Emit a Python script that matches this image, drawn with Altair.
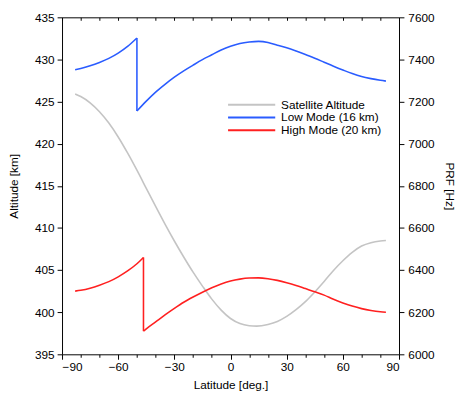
import altair as alt
import pandas as pd

# ---- data ----
alt_lat = [-83, -80, -75, -70, -65, -60, -55, -50, -45, -40, -35, -30, -25, -20, -15, -10, -5,
           0, 5, 10, 14, 20, 25, 30, 35, 40, 45, 50, 55, 60, 65, 70, 75, 80, 83]
alt_km = [425.9, 425.6, 424.85, 423.8, 422.45, 420.8, 418.9, 416.85, 414.7, 412.55, 410.45,
          408.45, 406.55, 404.75, 403.1, 401.55, 400.25, 399.25, 398.65, 398.4, 398.35,
          398.55, 398.9, 399.5, 400.3, 401.25, 402.4, 403.65, 404.95, 406.1, 407.1, 407.85,
          408.25, 408.45, 408.5]

# Low mode: before the jump / after the jump
low_lat_a = [-83, -80, -75, -70, -65, -60, -55, -50]
low_prf_a = [7351, 7357, 7370, 7386, 7405, 7430, 7462, 7502]
low_lat_b = [-50, -45, -40, -35, -30, -25, -20, -15, -10, -5, 0, 5, 10, 15, 20, 25, 30, 35, 40,
             45, 50, 55, 60, 65, 70, 75, 80, 83]
low_prf_b = [7155, 7202, 7245, 7282, 7316, 7346, 7373, 7399, 7422, 7445, 7463, 7476, 7483, 7486,
             7481, 7468, 7455, 7440, 7424, 7406, 7387, 7368, 7350, 7333, 7319, 7309, 7301, 7297]

# High mode: before the jump / after the jump
high_lat_a = [-83, -80, -75, -70, -65, -60, -55, -50, -46.5]
high_prf_a = [6300, 6304, 6314, 6328, 6345, 6368, 6396, 6430, 6460]
high_lat_b = [-46.5, -45, -40, -35, -30, -25, -20, -15, -10, -5, 0, 5, 10, 15, 20, 25, 30, 35,
              40, 45, 50, 55, 60, 65, 70, 75, 80, 83]
high_prf_b = [6110, 6121, 6154, 6187, 6218, 6247, 6272, 6295, 6316, 6334, 6348, 6357, 6362, 6363,
              6359, 6351, 6340, 6327, 6312, 6297, 6281, 6261, 6244, 6229, 6217, 6208, 6202, 6200]

series_names = ["Satellite Altitude", "Low Mode (16 km)", "High Mode (20 km)"]
series_colors = ["#c4c4c4", "#2a5cff", "#ff2020"]

x_minor = list(range(-90, 91, 10))
alt_ticks = [395, 400, 405, 410, 415, 420, 425, 430, 435]
prf_ticks = [6000, 6200, 6400, 6600, 6800, 7000, 7200, 7400, 7600]


# ---- tables ----
def seg(lats, vals, series, key):
    return pd.DataFrame({"lat": lats, "val": vals, "series": series, "seg": key,
                         "i": list(range(len(lats)))})


df_alt = seg(alt_lat, alt_km, series_names[0], "alt")
df_prf = pd.concat([
    seg(low_lat_a, low_prf_a, series_names[1], "low_a"),
    seg([low_lat_a[-1], low_lat_b[0]], [low_prf_a[-1], low_prf_b[0]], series_names[1], "low_j"),
    seg(low_lat_b, low_prf_b, series_names[1], "low_b"),
    seg(high_lat_a, high_prf_a, series_names[2], "high_a"),
    seg([high_lat_a[-1], high_lat_b[0]], [high_prf_a[-1], high_prf_b[0]], series_names[2], "high_j"),
    seg(high_lat_b, high_prf_b, series_names[2], "high_b"),
], ignore_index=True)

FONT = "Liberation Sans"
x_scale = alt.Scale(domain=[-90, 90], nice=False, zero=False)

color = alt.Color(
    "series:N",
    scale=alt.Scale(domain=series_names, range=series_colors),
    legend=alt.Legend(
        title=None, orient="none", legendX=168, legendY=83,
        symbolType="stroke", symbolSize=2304, symbolStrokeWidth=2,
        clipHeight=12, rowPadding=1, padding=0, labelOffset=5,
        labelFont=FONT, labelFontSize=12, labelColor="black",
    ),
)

alt_line = alt.Chart(df_alt).mark_line(strokeWidth=1.6, interpolate="monotone").encode(
    x=alt.X("lat:Q", scale=x_scale,
            axis=alt.Axis(orient="bottom", values=x_minor, title="Latitude [deg.]",
                          labelExpr="datum.value % 30 === 0 ? datum.label : ''",
                          tickSize={"condition": {"test": "datum.value % 30 === 0", "value": 5}, "value": 3},
                          labelPadding=2, titlePadding=8)),
    y=alt.Y("val:Q", scale=alt.Scale(domain=[395, 435], nice=False, zero=False),
            axis=alt.Axis(orient="left", values=alt_ticks, title="Altitude [km]",
                          tickSize=5, labelPadding=3, titlePadding=14)),
    color=color,
    detail="seg:N",
    order="i:Q",
)

prf_line = alt.Chart(df_prf).mark_line(strokeWidth=1.6, interpolate="monotone").encode(
    x=alt.X("lat:Q", scale=x_scale,
            axis=alt.Axis(orient="top", values=x_minor, labels=False, title=None,
                          tickSize=3, offset=-3)),
    y=alt.Y("val:Q", scale=alt.Scale(domain=[6000, 7600], nice=False, zero=False),
            axis=alt.Axis(orient="right", values=prf_ticks, title="PRF [Hz]", format="d",
                          tickSize=5, labelPadding=4, titlePadding=9)),
    color=color,
    detail="seg:N",
    order="i:Q",
)

chart = (
    alt.layer(alt_line, prf_line)
    .resolve_scale(y="independent", x="shared")
    .resolve_axis(x="independent", y="independent")
    .properties(
        width=343, height=343,
        autosize=alt.AutoSizeParams(type="none"),
        padding={"left": 55, "top": 6, "right": 58, "bottom": 43},
        background="white",
    )
    .configure_view(stroke="black", strokeWidth=1)
    .configure_axis(
        grid=False, domain=False,
        labelFont=FONT, labelFontSize=12, labelColor="black",
        titleFont=FONT, titleFontSize=12, titleFontWeight="normal", titleColor="black",
        tickColor="black", tickWidth=1,
    )
)

chart.save("out.html", embed_options={"renderer": "svg", "actions": False})
